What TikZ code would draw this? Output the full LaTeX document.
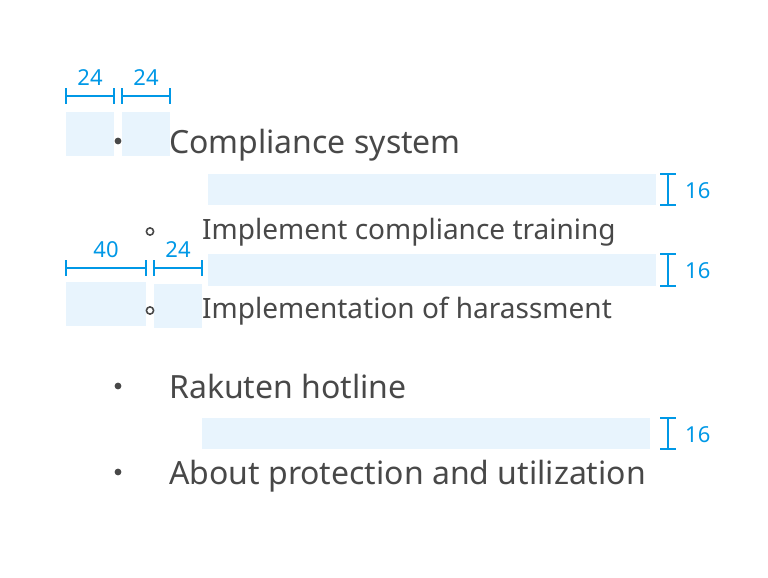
\documentclass[tikz,border=0pt]{standalone}
\usepackage{fontspec}
\setmainfont{Noto Sans}
\definecolor{specblue}{RGB}{0,152,230}
\definecolor{padfill}{RGB}{232,244,253}
\definecolor{bodytext}{RGB}{72,72,72}
\begin{document}
\begin{tikzpicture}[x=1pt, y=-1pt, every node/.style={inner sep=0pt}]
          \useasboundingbox (0,0) rectangle (768,578);
          % padding areas
          \foreach \xa/\ya/\xb/\yb in {66/112/114/156, 122/112/170/156,
              208/174/656/205, 208/254/656/286, 66/282/146/326,
              154/284/202/328, 202/418/650/449} {
            \fill[padfill] (\xa,\ya) rectangle (\xb,\yb);
          }
          % widths
          \foreach \xa/\xb/\yy/\val [count=\i] in {66/114/96/24, 122/170/96/24,
              66/146/268/40, 154/202/268/24} {
            \draw[specblue, line width=2] (\xa,\yy) -- (\xb,\yy)
              (\xa,\yy-8) -- (\xa,\yy+8) (\xb,\yy-8) -- (\xb,\yy+8);
            \node[font=\fontsize{22}{26}\selectfont, text=specblue] (w\i)
              at ({(\xa+\xb)/2},\yy-18) {\val};
          }
          % gaps
          \foreach \xx/\ya/\yb [count=\i] in {668/174/205, 668/254/286, 668/418/449} {
            \draw[specblue, line width=2] (\xx,\ya) -- (\xx,\yb)
              (\xx-8,\ya) -- (\xx+8,\ya) (\xx-8,\yb) -- (\xx+8,\yb);
            \node[font=\fontsize{22}{26}\selectfont, text=specblue, anchor=west] (h\i)
              at (685,{(\ya+\yb)/2+1}) {16};
          }
          % list
          \foreach \yy/\txt [count=\i] in {153/Compliance system, 398/Rakuten hotline,
              484/About protection and utilization} {
            \fill[bodytext] (118,\yy-12) circle (3.4);
            \node[font=\fontsize{32}{38}\selectfont, text=bodytext, anchor=base west] (item\i)
              at (169,\yy) {\txt};
          }
          \foreach \yy/\txt [count=\i] in {239/Implement compliance training,
              318/Implementation of harassment} {
            \draw[bodytext, line width=1.6] (150,\yy-7.5) circle (3.6);
            \node[font=\fontsize{28}{34}\selectfont, text=bodytext, anchor=base west] (sub\i)
              at (202,\yy) {\txt};
          }
        \end{tikzpicture}
\end{document}
